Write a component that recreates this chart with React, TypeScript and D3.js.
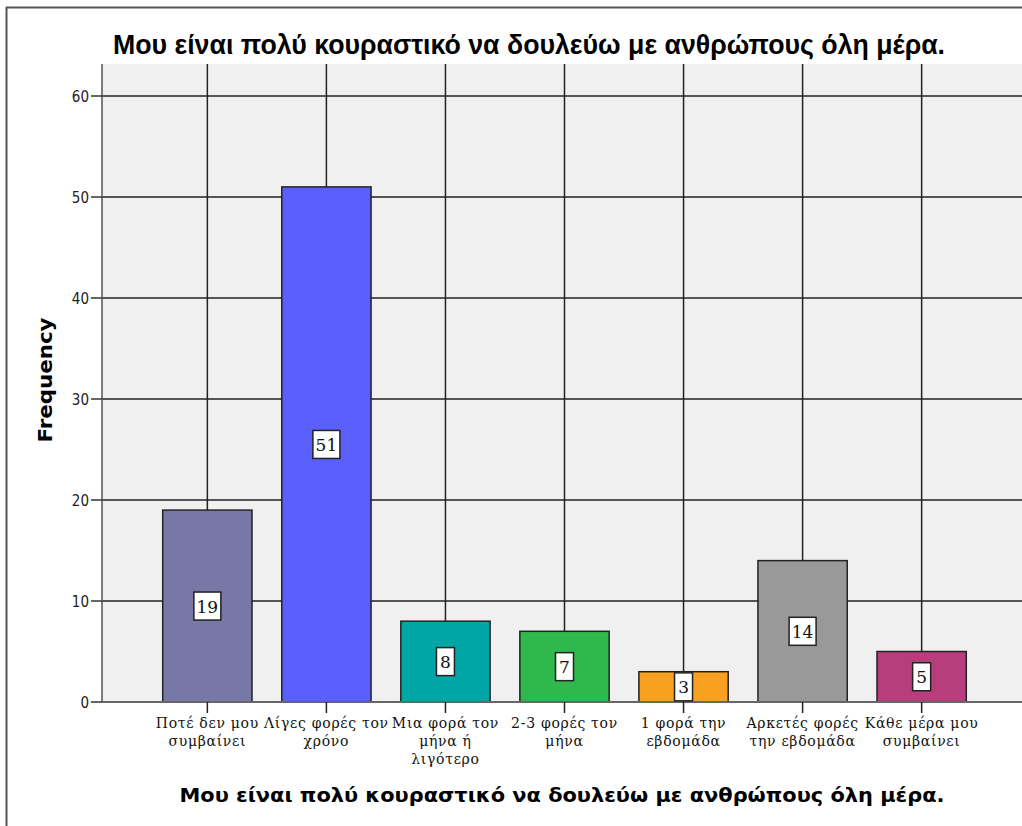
import React from "react";
import * as d3 from "d3";

const categories: string[][] = [
  ["Ποτέ δεν μου", "συμβαίνει"],
  ["Λίγες φορές τον", "χρόνο"],
  ["Μια φορά τον", "μήνα ή", "λιγότερο"],
  ["2-3 φορές τον", "μήνα"],
  ["1 φορά την", "εβδομάδα"],
  ["Αρκετές φορές", "την εβδομάδα"],
  ["Κάθε μέρα μου", "συμβαίνει"],
];
const frequencies = [19, 51, 8, 7, 3, 14, 5];
const barColors = ["#7878a8", "#5a5ffc", "#00a5a5", "#2fb94c", "#f8a020", "#999999", "#b83d7d"];
const yTicks = [0, 10, 20, 30, 40, 50, 60];
const titleText = "Μου είναι πολύ κουραστικό να δουλεύω με ανθρώπους όλη μέρα.";
const xAxisTitle = "Μου είναι πολύ κουραστικό να δουλεύω με ανθρώπους όλη μέρα.";
const yAxisTitle = "Frequency";

const W = 1022;
const H = 826;
const plotLeft = 102;
const plotRight = 1027;
const plotTop = 64;
const plotBottom = 702;

export default function App() {
  const idx = categories.map((_, i) => String(i));
  const x = d3
    .scaleBand<string>()
    .domain(idx)
    .range([plotLeft, plotRight])
    .paddingInner(0.25)
    .paddingOuter(0.51);
  const y = d3.scaleLinear().domain([0, 60]).range([plotBottom, plotBottom - 606]);
  const cx = (i: number) => (x(String(i)) as number) + x.bandwidth() / 2;

  return (
    <svg
      width={W}
      height={H}
      style={{ position: "absolute", left: 0, top: 0, display: "block", background: "#fff" }}
    >
      {/* outer frame */}
      <line x1={6.5} y1={7} x2={6.5} y2={H} stroke="#555" strokeWidth={2} />
      <line x1={6} y1={7.5} x2={W} y2={7.5} stroke="#555" strokeWidth={2} />

      {/* title */}
      <text
        x={529}
        y={54}
        textAnchor="middle"
        fontFamily="'Liberation Sans Narrow', 'Arial Narrow', 'Liberation Sans', sans-serif"
        fontWeight="bold"
        fontSize={27}
        textLength={832}
        lengthAdjust="spacingAndGlyphs"
        fill="#000"
      >
        {titleText}
      </text>

      {/* plot background */}
      <rect x={plotLeft} y={plotTop} width={plotRight - plotLeft} height={plotBottom - plotTop} fill="#f0f0f0" />

      {/* horizontal grid */}
      {yTicks.filter((t) => t > 0).map((t) => (
        <line key={"h" + t} x1={plotLeft} x2={plotRight} y1={y(t)} y2={y(t)} stroke="#222" strokeWidth={1.5} />
      ))}
      {/* vertical grid */}
      {categories.map((_, i) => (
        <line key={"v" + i} x1={cx(i)} x2={cx(i)} y1={plotTop} y2={plotBottom} stroke="#222" strokeWidth={1.5} />
      ))}

      {/* bars */}
      {frequencies.map((v, i) => (
        <rect
          key={"b" + i}
          x={x(String(i)) as number}
          y={y(v)}
          width={x.bandwidth()}
          height={y(0) - y(v)}
          fill={barColors[i]}
          stroke="#222"
          strokeWidth={1.5}
        />
      ))}

      {/* axes */}
      <line x1={plotLeft} x2={plotLeft} y1={plotTop} y2={plotBottom} stroke="#555" strokeWidth={1.5} />
      <line x1={plotLeft} x2={plotRight} y1={plotBottom} y2={plotBottom} stroke="#666" strokeWidth={2} />

      {/* y ticks */}
      {yTicks.map((t) => (
        <g key={"yt" + t}>
          <line x1={plotLeft - 11} x2={plotLeft} y1={y(t)} y2={y(t)} stroke="#333" strokeWidth={1.5} />
          <text
            x={plotLeft - 13}
            y={y(t) + 5.5}
            textAnchor="end"
            fontFamily="'DejaVu Sans Condensed', 'DejaVu Sans', sans-serif"
            fontSize={15}
            fill="#222"
          >
            {t}
          </text>
        </g>
      ))}

      {/* x ticks and labels */}
      {categories.map((lines, i) => (
        <g key={"xt" + i}>
          <line x1={cx(i)} x2={cx(i)} y1={plotBottom} y2={plotBottom + 11} stroke="#222" strokeWidth={1.5} />
          {lines.map((ln, j) => (
            <text
              key={j}
              x={cx(i)}
              y={728 + j * 18}
              textAnchor="middle"
              fontFamily="'DejaVu Serif', 'Liberation Serif', serif"
              fontSize={14}
              letterSpacing={0.7}
              fill="#111"
            >
              {ln}
            </text>
          ))}
        </g>
      ))}

      {/* value labels */}
      {frequencies.map((v, i) => {
        const label = String(v);
        const bw = label.length > 1 ? 27 : 18;
        const bh = 28;
        const my = (y(0) + y(v)) / 2;
        return (
          <g key={"vl" + i}>
            <rect x={cx(i) - bw / 2} y={my - bh / 2} width={bw} height={bh} fill="#fff" stroke="#222" strokeWidth={1.5} />
            <text
              x={cx(i)}
              y={my + 6.5}
              textAnchor="middle"
              fontFamily="'DejaVu Serif', 'Liberation Serif', serif"
              fontSize={17}
              fill="#111"
            >
              {label}
            </text>
          </g>
        );
      })}

      {/* y axis title */}
      <text
        transform="translate(52,380) rotate(-90)"
        textAnchor="middle"
        fontFamily="'DejaVu Sans', sans-serif"
        fontWeight="bold"
        fontSize={19}
        textLength={125}
        lengthAdjust="spacingAndGlyphs"
        fill="#000"
      >
        {yAxisTitle}
      </text>

      {/* x axis title */}
      <text
        x={562}
        y={802}
        textAnchor="middle"
        fontFamily="'DejaVu Sans', sans-serif"
        fontWeight="bold"
        fontSize={19}
        textLength={765}
        lengthAdjust="spacingAndGlyphs"
        fill="#000"
      >
        {xAxisTitle}
      </text>
    </svg>
  );
}
